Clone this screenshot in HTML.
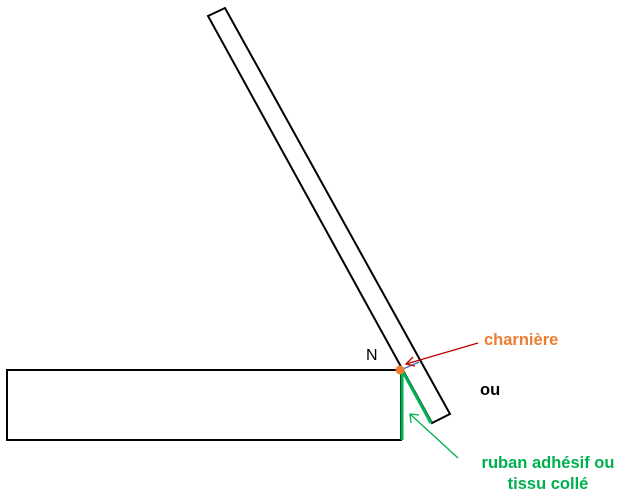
<!DOCTYPE html>
<html><head><style>body{margin:0;background:#fff}</style></head><body>
<svg width="621" height="497" xmlns="http://www.w3.org/2000/svg" style="display:block">
<rect x="7" y="370" width="394" height="70" fill="none" stroke="#000" stroke-width="2"/>
<polygon points="208,16 225,8 450,414 432,423" fill="none" stroke="#000" stroke-width="2"/>
<line x1="402" y1="372" x2="402" y2="440" stroke="#00b050" stroke-width="3"/>
<line x1="403" y1="372" x2="431" y2="423" stroke="#00b050" stroke-width="3"/>
<line x1="403" y1="369" x2="419" y2="362" stroke="#4472c4" stroke-width="1.5"/>
<circle cx="400" cy="370" r="4.5" fill="#ed7d31"/>
<line x1="478" y1="343" x2="406" y2="364" stroke="#c00000" stroke-width="1.3"/>
<polyline points="413,357 406,364 415,366" fill="none" stroke="#c00000" stroke-width="1.3"/>
<line x1="458" y1="458" x2="410" y2="414" stroke="#00b050" stroke-width="1.3"/>
<polyline points="411,423 410,414 419,415" fill="none" stroke="#00b050" stroke-width="1.3"/>
<text x="366" y="360" font-family="Liberation Sans, sans-serif" font-size="16">N</text>
<text x="484" y="345" font-family="Liberation Sans, sans-serif" font-size="16.5" font-weight="bold" fill="#ed7d31">charnière</text>
<text x="480" y="395" font-family="Liberation Sans, sans-serif" font-size="16.5" font-weight="bold">ou</text>
<text x="548" y="468" text-anchor="middle" font-family="Liberation Sans, sans-serif" font-size="16.5" font-weight="bold" fill="#00b050">ruban adhésif ou</text>
<text x="548" y="489" text-anchor="middle" font-family="Liberation Sans, sans-serif" font-size="16.5" font-weight="bold" fill="#00b050">tissu collé</text>
</svg>
</body></html>
